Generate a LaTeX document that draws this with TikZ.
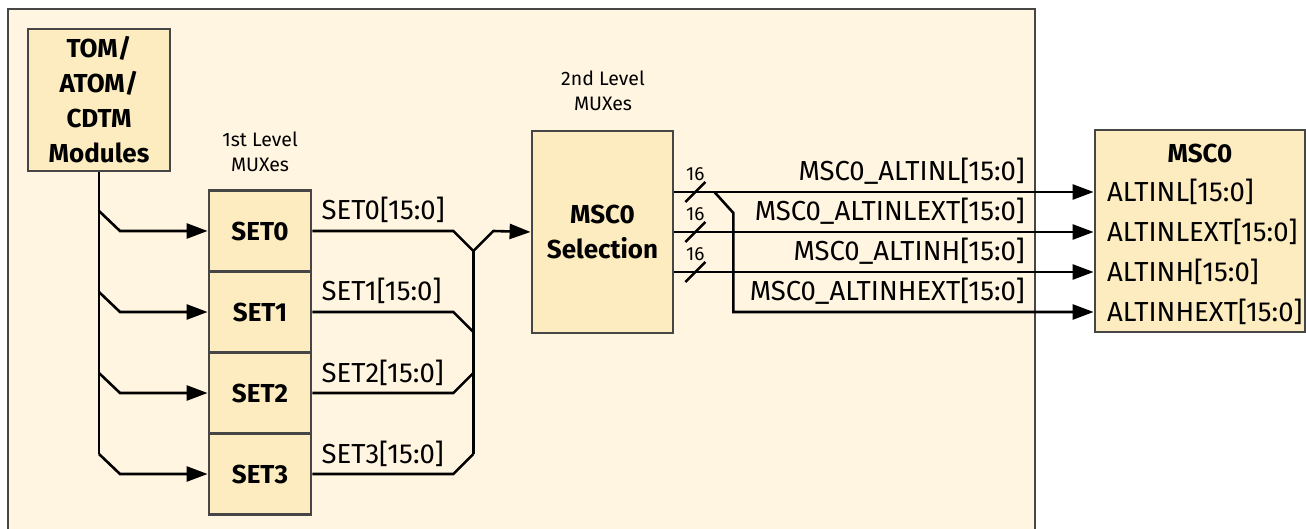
\documentclass[tikz,border=0pt]{standalone}
\usepackage{fontspec}
\setmainfont{Fira Sans}
\usetikzlibrary{arrows.meta,positioning,calc}
\definecolor{bgcream}{RGB}{255,245,225}
\definecolor{boxtan}{RGB}{252,236,192}
\definecolor{edgegray}{RGB}{70,70,70}

\begin{document}
\begin{tikzpicture}[x=1pt,y=-1pt,
    blk/.style={draw=edgegray,line width=2.8pt,fill=boxtan,inner sep=0pt,align=center,
        font=\bfseries\fontsize{26}{35}\selectfont},
    sig/.style={line width=2.6pt},
    arr/.style={sig,-{Triangle[length=21pt,width=15pt]}},
    sigtxt/.style={inner sep=0pt,font=\fontsize{27.5}{30}\selectfont},
    lvltxt/.style={inner sep=0pt,align=center,font=\fontsize{19.5}{25}\selectfont},
    bustxt/.style={inner sep=0pt,font=\fontsize{19}{22}\selectfont}]
    \useasboundingbox (0,0) rectangle (1306,529);
    \draw[draw=edgegray,line width=2.8pt,fill=bgcream] (8,9) rectangle (1035,545);

    \node[blk,minimum width=142pt,minimum height=142pt] (tom) at (99,100) {TOM/\\ATOM/\\CDTM\\Modules};
    \node[lvltxt] (lvl1) at (260,152) {1st Level\\MUXes};
    \node[lvltxt] (lvl2) at (603,91) {2nd Level\\MUXes};

    % 1st level
    \foreach \i in {0,...,3}
        \node[blk,minimum width=102pt,minimum height=81pt] (set\i) at (260,231+81*\i) {SET\i};
    \draw[sig] (tom.south) -- ([yshift=20pt]tom.south |- set3.west);
    \foreach \i in {0,...,3} {
        \draw[arr] ([yshift=20pt]tom.south |- set\i.west) -- ([xshift=21pt]tom.south |- set\i.west) -- (set\i.west);
        \node[sigtxt,anchor=base west] (lb\i) at ([xshift=9pt,yshift=11pt]set\i.east) {SET\i[15:0]};
    }

    % 2nd level
    \node[blk,minimum width=141pt,minimum height=202pt] (sel) at (602.5,232) {MSC0\\Selection};
    \draw[sig] (set0.east) -- ++(141,0) -- ++(20,20) coordinate (bustop);
    \draw[sig] (set1.east) -- ++(141,0) -- ++(20,20);
    \draw[sig] (set2.east) -- ++(141,0) -- ++(20,-20);
    \draw[sig] (set3.east) -- ++(141,0) -- ++(20,-20) coordinate (busbot);
    \draw[sig] (busbot) -- (bustop);
    \draw[arr] (bustop) -- ++(20,-20) -- (sel.west);

    % MSC0
    \node[blk,minimum width=210pt,minimum height=202pt] (msc) at (1200,231) {};
    \node[font=\bfseries\fontsize{26}{30}\selectfont,inner sep=0pt] (msct) at (1200,153) {MSC0};
    \foreach \p [count=\j from 0] in {ALTINL,ALTINLEXT,ALTINH,ALTINHEXT}
        \node[sigtxt,anchor=west] (pin\j) at (1107,192+40*\j) {\p[15:0]};

    \foreach \i in {0,1,2} {
        \draw[arr] (sel.east |- pin\i) -- (msc.west |- pin\i);
        \draw[sig] ([xshift=11pt,yshift=-10pt]sel.east |- pin\i) -- ++(20,-20);
        \node[bustxt] (bw\i) at ([xshift=21pt,yshift=18pt]sel.east |- pin\i) {16};
    }
    \draw[arr] ([xshift=40pt]sel.east |- pin0) -- ++(19,21) |- (msc.west |- pin3);
    \foreach \p [count=\j from 0] in {ALTINL,ALTINLEXT,ALTINH,ALTINHEXT}
        \node[sigtxt,anchor=base east] (sn\j) at ([xshift=-10pt,yshift=11pt]1035,0 |- pin\j) {MSC0\_\p[15:0]};
\end{tikzpicture}
\end{document}
